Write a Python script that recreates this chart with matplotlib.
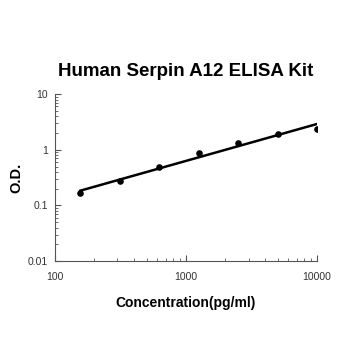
import numpy as np
import matplotlib.pyplot as plt

plt.rcParams['font.family'] = ['Liberation Sans', 'DejaVu Sans']

# standard curve readings
conc = [156.25, 312.5, 625, 1250, 2500, 5000, 10000]
od = [0.164, 0.27, 0.50, 0.86, 1.32, 1.93, 2.34]

# straight line fit on log-log scale
coef = np.polyfit(np.log10(conc), np.log10(od), 1)
xfit = np.logspace(np.log10(conc[0]), np.log10(conc[-1]), 100)
yfit = 10 ** np.polyval(coef, np.log10(xfit))

fig = plt.figure(figsize=(3.5, 3.5), dpi=100)
ax = fig.add_axes([0.157, 0.254, 0.749, 0.477])
ax.plot(xfit, yfit, color='black', lw=1.8)
ax.scatter(conc, od, color='black', s=14, zorder=3)

ax.set_xscale('log')
ax.set_yscale('log')
ax.set_xlim(100, 10000)
ax.set_ylim(0.01, 10)
ax.set_xticks([100, 1000, 10000])
ax.set_xticklabels(['100', '1000', '10000'])
ax.set_yticks([0.01, 0.1, 1, 10])
ax.set_yticklabels(['0.01', '0.1', '1', '10'])

for s in ['top', 'right']:
    ax.spines[s].set_visible(False)
for s in ['left', 'bottom']:
    ax.spines[s].set_color('#555555')
    ax.spines[s].set_linewidth(0.8)
ax.tick_params(which='both', direction='in', colors='#555555', labelcolor='#333333', labelsize=7.5)
ax.tick_params(which='major', length=4)
ax.tick_params(which='minor', length=2.5)
ax.tick_params(axis='x', pad=8)
ax.tick_params(axis='y', pad=5)

ax.set_title('Human Serpin A12 ELISA Kit', fontsize=13.5, fontweight='bold', pad=13)
ax.set_xlabel('Concentration(pg/ml)', fontsize=10, fontweight='bold', labelpad=10)
ax.set_ylabel('O.D.', fontsize=10.5, fontweight='bold', labelpad=3)

fig.savefig('out.png', dpi=100)
